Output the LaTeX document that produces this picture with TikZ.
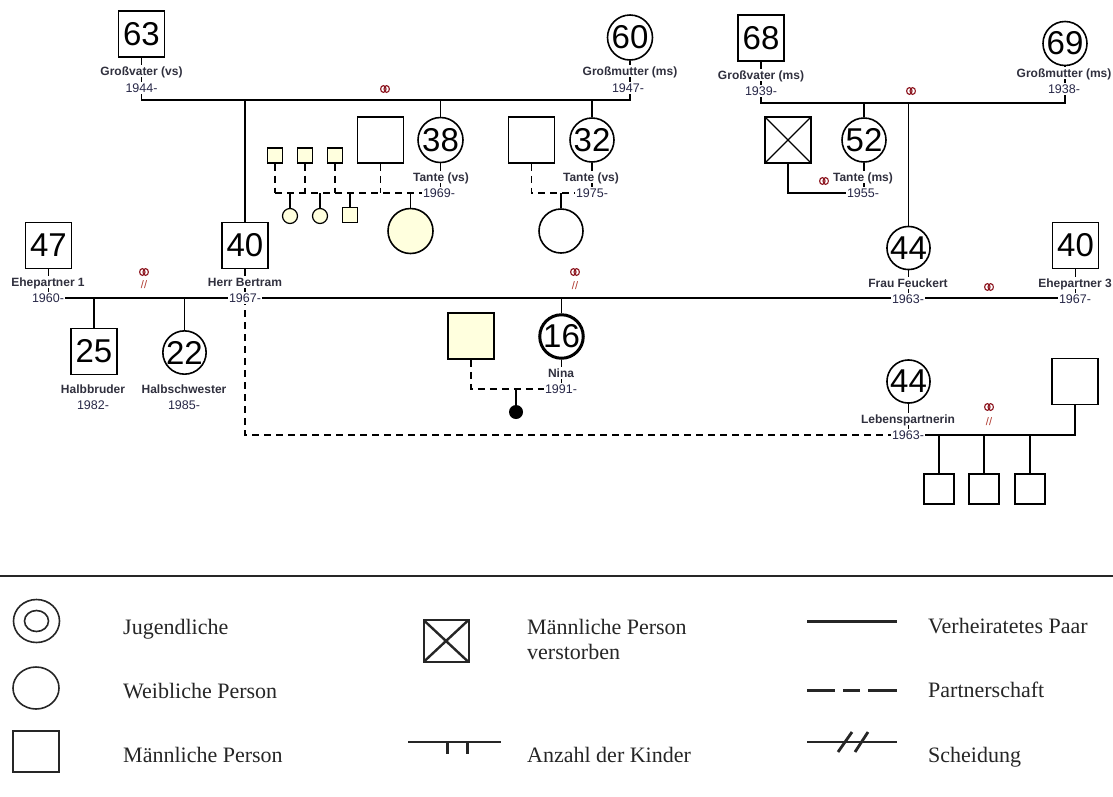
\documentclass[tikz,border=0pt]{standalone}
\usepackage{fontspec}
\setmainfont{Liberation Sans}
\newfontfamily\legfont{Liberation Serif}
\usetikzlibrary{calc,shapes.geometric}
\definecolor{cream}{RGB}{255,255,222}
\definecolor{lblc}{RGB}{48,48,62}
\definecolor{yrc}{RGB}{40,40,72}
\definecolor{ringc}{RGB}{140,20,30}
\definecolor{slashc}{RGB}{175,55,45}
\definecolor{legc}{RGB}{38,38,38}
\begin{document}
\begin{tikzpicture}[x=1pt,y=-1pt,
 conn/.style={line width=1.7pt},
 dconn/.style={line width=1.7pt, dash pattern=on 7pt off 5pt},
 male/.style={draw, line width=1.6pt, rectangle, minimum size=46pt, inner sep=0pt, font=\fontsize{33}{33}\selectfont},
 female/.style={draw, line width=1.6pt, circle, minimum size=44pt, inner sep=0pt, font=\fontsize{33}{33}\selectfont},
 smale/.style={draw, line width=1.2pt, rectangle, minimum size=15pt, inner sep=0pt, fill=cream},
 sfemale/.style={draw, line width=1.2pt, circle, minimum size=15pt, inner sep=0pt, fill=cream},
 nm/.style={font=\bfseries\fontsize{12}{12}\selectfont, text=lblc, fill=white, inner xsep=0.5pt, inner ysep=1pt, text height=9pt, text depth=0.5pt},
 yr/.style={font=\fontsize{12.5}{12.5}\selectfont, text=yrc, fill=white, inner xsep=1pt, inner ysep=1pt, text height=9pt, text depth=0.5pt},
 divs/.style={font=\fontsize{11}{11}\selectfont, text=slashc, inner sep=0pt},
 rings/.pic={\draw[ringc, line width=1.1pt] (-1.7,0) ellipse[x radius=2.7pt, y radius=3.4pt] (1.7,0) ellipse[x radius=2.7pt, y radius=3.4pt];},
 legtext/.style={font=\legfont\fontsize{22}{25}\selectfont, text=legc, anchor=base west, inner sep=0pt},
 legshape/.style={draw=legc, line width=1.6pt, inner sep=0pt},
 legline/.style={draw=legc, line width=3pt}
]
\fill[white] (0,0) rectangle (1113,796);
\useasboundingbox (0,0) rectangle (1113,796);

% ---------- persons ----------
\node[male] (g63) at (141.5,34) {63};
\node[female, minimum size=45pt] (g60) at (630,37.5) {60};
\node[male] (g68) at (761,38) {68};
\node[female] (g69) at (1065,43.5) {69};

\node[male] (p38) at (380.5,140) {};
\node[female, minimum size=45pt] (t38) at (440.5,140) {38};
\node[smale] (s1) at (275,155.5) {};
\node[smale] (s2) at (305,155.5) {};
\node[smale] (s3) at (335,155.5) {};
\node[sfemale] (k1) at (290,216) {};
\node[sfemale] (k2) at (320,216) {};
\node[smale] (k3) at (350,215) {};
\node[female, fill=cream, minimum size=45pt] (k4) at (410.5,231) {};

\node[male] (p32) at (531.5,140) {};
\node[female] (t32) at (592,140) {32};
\node[female] (k5) at (561,231) {};

\node[male, path picture={\draw[line width=1.3pt] (path picture bounding box.north west) -- (path picture bounding box.south east) (path picture bounding box.north east) -- (path picture bounding box.south west);}] (dec) at (788,140) {};
\node[female] (t52) at (864,140) {52};

\node[male] (e1) at (48.5,245.5) {47};
\node[male] (bert) at (245,245.5) {40};
\node[female, minimum size=42pt] (feuck) at (908.5,248) {44};
\node[male] (e3) at (1075.5,245.5) {40};

\node[male] (hb) at (94,351.5) {25};
\node[female, minimum size=43pt] (hs) at (184.5,352.5) {22};

\node[male, fill=cream] (pn) at (471,336) {};
\node[female, line width=3pt, minimum size=42pt] (nina) at (561.5,336.5) {16};
\node[circle, fill=black, minimum size=14pt, inner sep=0pt] (kn) at (516,412) {};

\node[female, minimum size=42pt] (lp) at (908.5,381.5) {44};
\node[male] (pl) at (1075,381.5) {};
\node[male, minimum size=30pt] (c1) at (939,489) {};
\node[male, minimum size=30pt] (c2) at (984,489) {};
\node[male, minimum size=30pt] (c3) at (1030,489) {};

% ---------- coordinates ----------
\coordinate (gvs) at (385,100);
\coordinate (gms) at (911,103);
\coordinate (d38) at (440.5,193);
\coordinate (d32) at (592,193);
\coordinate (c52) at (864,193);
\coordinate (mline) at (561.5,298);
\coordinate (dn) at (561.5,389);
\coordinate (dl) at (908.5,435);

% ---------- connectors ----------
\draw[conn] (g63.south) |- (gvs) -| (g60.south);
\draw[conn] (bert.north) -- (bert.north |- gvs);
\draw[conn] (t38.north) -- (t38.north |- gvs);
\draw[conn] (t32.north) -- (t32.north |- gvs);

\draw[conn] (g68.south) |- (gms) -| (g69.south);
\draw[conn] (t52.north) -- (t52.north |- gms);
\draw[conn] (feuck.north) -- (feuck.north |- gms);

\draw[dconn] (s1.south |- d38) -- (d38);
\draw[dconn] (s1.south) -- (s1.south |- d38);
\draw[dconn] (s2.south) -- (s2.south |- d38);
\draw[dconn] (s3.south) -- (s3.south |- d38);
\draw[dconn] (p38.south) -- (p38.south |- d38);
\draw[conn] (t38.south) -- (d38);
\draw[conn] (k1.north) -- (k1.north |- d38);
\draw[conn] (k2.north) -- (k2.north |- d38);
\draw[conn] (k3.north) -- (k3.north |- d38);
\draw[conn] (k4.north) -- (k4.north |- d38);

\draw[dconn] (p32.south) |- (d32);
\draw[conn] (t32.south) -- (d32);
\draw[conn] (k5.north) -- (k5.north |- d32);

\draw[conn] (dec.south) |- (c52);
\draw[conn] (t52.south) -- (c52);

\draw[conn] (e1.south) |- (e3.south |- mline) -- (e3.south);
\draw[conn] (bert.south) -- (bert.south |- mline);
\draw[conn] (feuck.south) -- (feuck.south |- mline);
\draw[conn] (hb.north) -- (hb.north |- mline);
\draw[conn] (hs.north) -- (hs.north |- mline);
\draw[conn] (nina.north) -- (nina.north |- mline);

\draw[dconn] (pn.south) |- (dn);
\draw[conn] (nina.south) -- (dn);
\draw[conn] (kn.north) -- (kn.north |- dn);

\draw[dconn] (bert.south |- mline) |- (dl);
\draw[conn] (lp.south) -- (dl);
\draw[conn] (dl) -| (pl.south);
\draw[conn] (c1.north) -- (c1.north |- dl);
\draw[conn] (c2.north) -- (c2.north |- dl);
\draw[conn] (c3.north) -- (c3.north |- dl);

% ---------- labels ----------
\node[nm] (n63) at (141.5,71) {Großvater (vs)};
\node[yr] (y63) at (141.5,88) {1944-};
\node[nm] (n60) at (630,71) {Großmutter (ms)};
\node[yr] (y60) at (628,88) {1947-};
\node[nm] (n68) at (761,75) {Großvater (ms)};
\node[yr] (y68) at (761,91) {1939-};
\node[nm] (n69) at (1064,73) {Großmutter (ms)};
\node[yr] (y69) at (1064,89) {1938-};
\node[nm] (n38) at (441,177) {Tante (vs)};
\node[yr] (y38) at (439,193) {1969-};
\node[nm] (n32) at (591,177) {Tante (vs)};
\node[yr] (y32) at (592,193) {1975-};
\node[nm] (n52) at (863,177) {Tante (ms)};
\node[yr] (y52) at (863,193) {1955-};
\node[nm] (ne1) at (48,282) {Ehepartner 1};
\node[yr] (ye1) at (48,298) {1960-};
\node[nm] (nbe) at (245,282) {Herr Bertram};
\node[yr] (ybe) at (245,298) {1967-};
\node[nm] (nhb) at (93,389) {Halbbruder};
\node[yr] (yhb) at (93,405) {1982-};
\node[nm] (nhs) at (184,389) {Halbschwester};
\node[yr] (yhs) at (184,405) {1985-};
\node[nm] (nni) at (561,373) {Nina};
\node[yr] (yni) at (561,389) {1991-};
\node[nm] (nfe) at (908,283) {Frau Feuckert};
\node[yr] (yfe) at (908,299) {1963-};
\node[nm] (ne3) at (1075,283) {Ehepartner 3};
\node[yr] (ye3) at (1075,299) {1967-};
\node[nm] (nlp) at (908,419) {Lebenspartnerin};
\node[yr] (ylp) at (908,435) {1963-};

% marriage / divorce marks
\pic at (385,89) {rings};
\pic at (911,91) {rings};
\pic at (824,181) {rings};
\pic at (144,272) {rings};
\pic at (575,272) {rings};
\pic at (989,287) {rings};
\pic at (989,407) {rings};
\node[divs] (dv1) at (144,285) {//};
\node[divs] (dv2) at (575,286) {//};
\node[divs] (dv3) at (989,422) {//};

% ---------- legend ----------
\draw[legc, line width=2.2pt] (0,576) -- (1113,576);

\node[legshape, ellipse, minimum width=46pt, minimum height=43pt] (lj1) at (36.5,621) {};
\node[legshape, ellipse, minimum width=24pt, minimum height=21pt] (lj2) at (36.5,621) {};
\node[legtext] (tj) at (123,634) {Jugendliche};
\node[legshape, ellipse, minimum width=46pt, minimum height=42pt] (lw) at (36,688) {};
\node[legtext] (tw) at (123,698) {Weibliche Person};
\node[legshape, rectangle, minimum width=46pt, minimum height=41pt, line width=1.4pt] (lm) at (36,751.5) {};
\node[legtext] (tm) at (123,762) {Männliche Person};

\node[legshape, rectangle, minimum width=45pt, minimum height=42pt, line width=2pt, path picture={\draw[legc, line width=2.4pt] (path picture bounding box.north west) -- (path picture bounding box.south east) (path picture bounding box.north east) -- (path picture bounding box.south west);}] (ld) at (446,641) {};
\node[legtext] (td1) at (527,634) {Männliche Person};
\node[legtext] (td2) at (527,659) {verstorben};

\coordinate (ak1) at (408,742);
\coordinate (ak2) at (501,742);
\coordinate (at1) at (447,742);
\coordinate (at2) at (467,742);
\draw[legc, line width=2.8pt] (ak1) -- (ak2);
\draw[legc, line width=3pt] (at1) -- ++(0,12) (at2) -- ++(0,12);
\node[legtext] (ta) at (527,762) {Anzahl der Kinder};

\coordinate (v1) at (807,621);
\coordinate (v2) at (897,621);
\draw[legline] (v1) -- (v2);
\node[legtext] (tv) at (928,633) {Verheiratetes Paar};

\draw[legline] (807,690) -- (835,690) (843,690) -- (860,690) (868,690) -- (897,690);
\node[legtext] (tp) at (928,697) {Partnerschaft};

\coordinate (s1a) at (807,742);
\coordinate (s1b) at (897,742);
\draw[legc, line width=2.5pt] (s1a) -- (s1b);
\draw[legc, line width=2.8pt] (838,752) -- (852,732) (855,752) -- (868,732);
\node[legtext] (ts) at (928,762) {Scheidung};
\end{tikzpicture}
\end{document}
